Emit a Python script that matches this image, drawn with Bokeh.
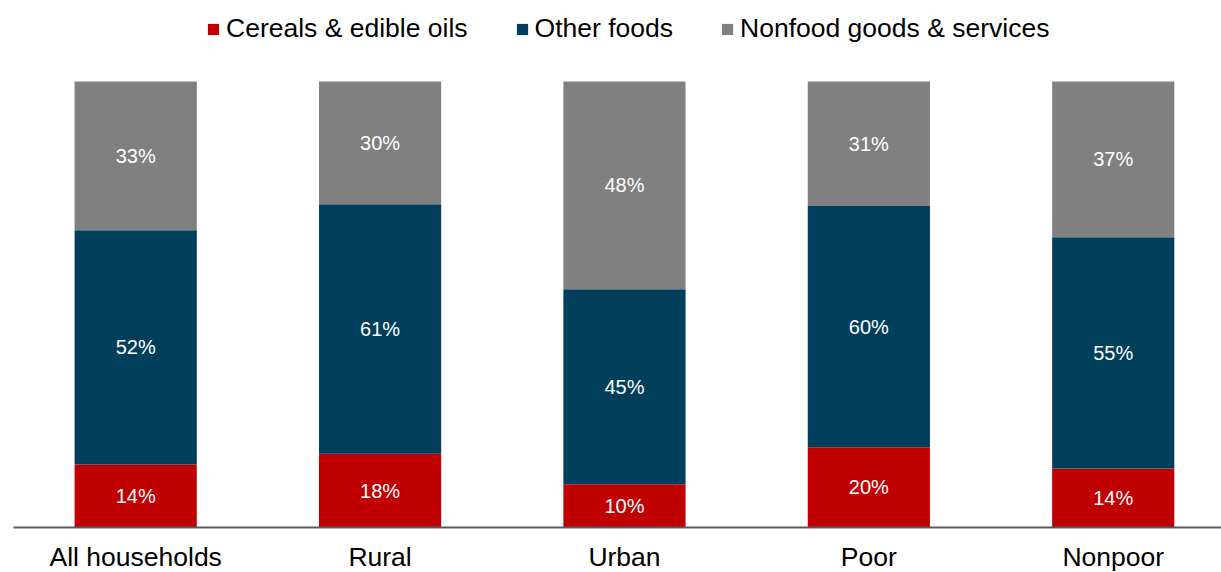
from bokeh.plotting import figure
from bokeh.models import ColumnDataSource, Range1d, Legend, LegendItem
from bokeh.core.properties import value
from bokeh.embed import file_html
from bokeh.resources import INLINE

categories = ["All households", "Rural", "Urban", "Poor", "Nonpoor"]
cereals = [14, 18, 10, 20, 14]
other_foods = [52, 61, 45, 60, 55]
nonfood = [33, 30, 48, 31, 37]
series_names = ["Cereals & edible oils", "Other foods", "Nonfood goods & services"]
colors = ["#C00000", "#003F5C", "#808080"]

FONT = "Liberation Sans"

xs = list(range(len(categories)))
totals = [a + b + c for a, b, c in zip(cereals, other_foods, nonfood)]
norm = {
    "c": [v / t * 100 for v, t in zip(cereals, totals)],
    "o": [v / t * 100 for v, t in zip(other_foods, totals)],
    "n": [v / t * 100 for v, t in zip(nonfood, totals)],
}
src = ColumnDataSource(dict(x=xs, c=norm["c"], o=norm["o"], n=norm["n"]))

p = figure(frame_width=1208, frame_height=527, output_backend="svg", toolbar_location=None,
           x_range=Range1d(-0.5, 4.443), y_range=Range1d(0, 118.16),
           y_axis_location=None, min_border_left=13, min_border_right=0,
           min_border_top=0, min_border_bottom=0, outline_line_color=None)
p.background_fill_color = "white"
p.border_fill_color = "white"

rs = p.vbar_stack(["c", "o", "n"], x="x", width=0.5, color=colors, line_color=None, source=src)

# data labels
lx, ly, lt = [], [], []
for i in xs:
    base = 0
    for key, raw in zip(["c", "o", "n"], [cereals, other_foods, nonfood]):
        h = norm[key][i]
        lx.append(i)
        ly.append(base + h / 2)
        lt.append(f"{raw[i]}%")
        base += h
p.text(x=lx, y=ly, text=lt, text_color="white", text_align="center", text_baseline="middle",
       text_font=value(FONT), text_font_size="20px")

p.xgrid.visible = False
p.ygrid.visible = False
ax = p.xaxis[0]
ax.ticker = xs
ax.major_label_overrides = {i: c for i, c in enumerate(categories)}
ax.major_label_text_font = FONT
ax.major_label_text_font_size = "26.5px"
ax.major_label_text_color = "black"
ax.major_tick_line_color = None
ax.minor_tick_line_color = None
ax.major_tick_in = 0
ax.major_tick_out = 0
ax.major_label_standoff = 14
ax.axis_line_color = "#595959"
ax.axis_line_width = 2

legend = Legend(items=[LegendItem(label=n, renderers=[r]) for n, r in zip(series_names, rs)],
                orientation="horizontal", location=(193, 483), padding=0, margin=0,
                glyph_width=14, glyph_height=14, label_standoff=6, spacing=47,
                label_text_font=FONT, label_text_font_size="26.5px", label_text_color="black",
                border_line_color=None, background_fill_alpha=0)
p.add_layout(legend, "center")

open("out.html", "w").write(file_html(p, INLINE))
